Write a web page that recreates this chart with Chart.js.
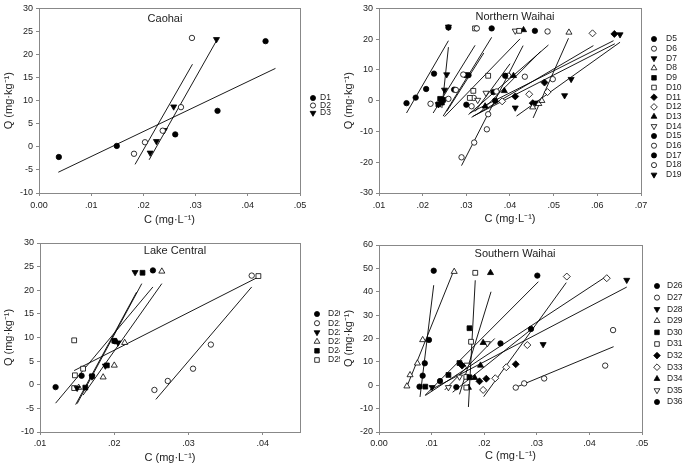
<!DOCTYPE html>
<html>
<head>
<meta charset="utf-8">
<script src="https://cdn.jsdelivr.net/npm/chart.js@4.4.0/dist/chart.umd.min.js"></script>
<style>
  html, body { margin: 0; padding: 0; background: #fff; }
  #wrap { position: relative; width: 685px; height: 468px; overflow: hidden; }
  canvas { position: absolute; }
</style>
</head>
<body>
<div id="wrap">
  <canvas id="p1" width="340" height="234" style="left:0;top:0"></canvas>
  <canvas id="p2" width="345" height="234" style="left:340px;top:0"></canvas>
  <canvas id="p3" width="340" height="234" style="left:0;top:234px"></canvas>
  <canvas id="p4" width="345" height="234" style="left:340px;top:234px"></canvas>
</div>
<script>
// ---- Caohai ----
const caohaiSeries = ["D1", "D2", "D3"];
const caohaiC = [
  [0.0038, 0.0149, 0.0261, 0.0342, 0.0434],
  [0.0182, 0.0203, 0.0237, 0.0272, 0.0293],
  [0.0213, 0.0225, 0.0240, 0.0258, 0.0340]
];
const caohaiQ = [
  [-2.2, 0.2, 2.7, 7.8, 22.9],
  [-1.5, 1.0, 3.5, 8.6, 23.6],
  [-1.3, 1.2, 3.6, 8.7, 23.3]
];
// fitted lines: [c1, q1, c2, q2]
const caohaiFit = [
  [0.0037, -5.5, 0.0453, 17.0],
  [0.0184, -3.8, 0.0294, 17.9],
  [0.0211, -2.8, 0.0341, 23.2]
];
const caohaiXTicks = [0, 0.01, 0.02, 0.03, 0.04, 0.05];
const caohaiYTicks = [-10, -5, 0, 5, 10, 15, 20, 25, 30];

// ---- Northern Waihai ----
const northSeries = ["D5", "D6", "D7", "D8", "D9", "D10", "D11", "D12", "D13", "D14", "D15", "D16", "D17", "D18", "D19"];
const northC = [
  [0.0163, 0.0184, 0.0208, 0.0226, 0.0259],
  [0.0218, 0.0259, 0.0276, 0.0293, 0.0324],
  [0.0236, 0.0245, 0.0250, 0.0255, 0.0259],
  [0.0452, 0.0466, 0.0473, 0.0535],
  [0.0236, 0.0240, 0.0244, 0.0247],
  [0.0308, 0.0316, 0.0350, 0.0320, 0.0421],
  [0.0412, 0.0452, 0.0479, 0.0639],
  [0.0382, 0.0444, 0.0486, 0.0589],
  [0.0343, 0.0387, 0.0408, 0.0431],
  [0.0326, 0.0345, 0.0412],
  [0.0300, 0.0272, 0.0299, 0.0305, 0.0358],
  [0.0312, 0.0317, 0.0369, 0.0434, 0.0498, 0.0486],
  [0.0366, 0.0362, 0.0389, 0.0457],
  [0.0289, 0.0318, 0.0347, 0.0350, 0.0396],
  [0.0412, 0.0458, 0.0525, 0.0540, 0.0652]
];
const northQ = [
  [-0.8, 1.0, 3.8, 8.8, 23.8],
  [-1.0, 0.6, 3.5, 8.5, 23.5],
  [-1.2, -0.3, 3.5, 8.5, 24.0],
  [-2.1, -1.0, 0.0, 22.2],
  [-1.2, 0.6, -0.6, 0.3],
  [0.9, 3.2, 8.1, 23.5, 22.7],
  [1.4, -0.8, 5.9, 21.7],
  [-0.2, 2.1, 2.8, 21.9],
  [-1.8, 3.2, 8.1, 23.0],
  [0.2, 2.5, 22.7],
  [-1.3, 3.6, 8.3, 8.3, 23.5],
  [-1.8, 0.9, 3.0, 7.8, 7.0, 22.5],
  [0.0, 2.8, 8.1, 22.7],
  [-18.4, -13.6, -9.3, -4.4, 8.1],
  [-2.3, -0.7, 1.7, 7.0, 21.5]
];
const northFit = [
  [0.0163, -4.0, 0.0259, 19.5],
  [0.0224, -4.0, 0.0320, 18.0],
  [0.0244, -2.4, 0.0259, 17.4],
  [0.0453, -5.6, 0.0534, 20.3],
  [0.0247, -5.0, 0.0358, 20.6],
  [0.0250, -5.2, 0.0423, 20.1],
  [0.0308, -4.0, 0.0637, 19.5],
  [0.0312, -5.4, 0.0591, 17.9],
  [0.0305, -4.5, 0.0488, 18.1],
  [0.0320, -3.5, 0.0400, 12.0],
  [0.0255, -3.5, 0.0340, 15.5],
  [0.0316, -5.0, 0.0640, 18.5],
  [0.0330, -4.0, 0.0470, 16.0],
  [0.0289, -21.1, 0.0430, 17.9],
  [0.0415, -5.0, 0.0652, 19.0]
];
const northXTicks = [0.01, 0.02, 0.03, 0.04, 0.05, 0.06, 0.07];
const northYTicks = [-30, -20, -10, 0, 10, 20, 30];

// ---- Lake Central ----
const centralSeries = ["D20", "D21", "D22", "D23", "D24", "D25"];
const centralC = [
  [0.0121, 0.0156, 0.0201, 0.0252],
  [0.0254, 0.0272, 0.0306, 0.0330, 0.0385],
  [0.0150, 0.0170, 0.0188, 0.0205, 0.0228],
  [0.0152, 0.0185, 0.0200, 0.0214, 0.0264],
  [0.0161, 0.0170, 0.0190, 0.0200, 0.0238],
  [0.0146, 0.0147, 0.0158, 0.0146, 0.0394]
];
const centralQ = [
  [-0.5, 1.9, 9.2, 24.2],
  [-1.1, 0.8, 3.4, 8.5, 23.1],
  [-0.7, 1.7, 4.0, 8.9, 23.8],
  [-0.6, 1.6, 4.1, 8.9, 24.0],
  [-0.6, 1.8, 4.1, 9.3, 23.7],
  [-0.7, 2.0, 3.4, 9.4, 23.0]
];
const centralFit = [
  [0.0121, -3.9, 0.0252, 20.7],
  [0.0256, -3.1, 0.0385, 20.7],
  [0.0148, -4.2, 0.0230, 19.6],
  [0.0158, -2.2, 0.0264, 21.4],
  [0.0150, -4.0, 0.0237, 21.4],
  [0.0146, 3.0, 0.0394, 22.8]
];
const centralXTicks = [0.01, 0.02, 0.03, 0.04];
const centralYTicks = [-10, -5, 0, 5, 10, 15, 20, 25, 30];

// ---- Southern Waihai ----
const southSeries = ["D26", "D27", "D28", "D29", "D30", "D31", "D32", "D33", "D34", "D35", "D36"];
const southC = [
  [0.0116, 0.0147, 0.0231, 0.0289, 0.0301],
  [0.0260, 0.0276, 0.0314, 0.0430, 0.0445],
  [0.0101, 0.0312, 0.0471],
  [0.0053, 0.0059, 0.0073, 0.0083, 0.0143],
  [0.0088, 0.0132, 0.0153, 0.0172, 0.0172],
  [0.0166, 0.0166, 0.0175, 0.0183],
  [0.0158, 0.0191, 0.0204, 0.0260],
  [0.0198, 0.0221, 0.0242, 0.0282, 0.0357, 0.0433],
  [0.0170, 0.0182, 0.0193, 0.0198, 0.0212],
  [0.0132, 0.0153, 0.0167, 0.0206],
  [0.0077, 0.0083, 0.0087, 0.0095, 0.0104]
];
const southQ = [
  [1.8, -0.8, 17.9, 24.1, 46.9],
  [-1.0, 0.8, 2.9, 8.4, 23.6],
  [-0.9, 17.5, 45.0],
  [-0.4, 4.4, 9.4, 19.4, 48.6],
  [-0.6, 4.4, 9.5, 3.4, 24.4],
  [-1.0, 3.6, 18.6, 48.1],
  [8.4, 1.7, 2.8, 9.0],
  [-2.0, 3.0, 7.7, 17.2, 46.5, 45.8],
  [-1.0, 3.2, 8.5, 18.2, 48.1],
  [-0.9, 3.6, 8.7, 17.9],
  [-0.6, 4.1, 9.4, 19.4, 49.0]
];
const southFit = [
  [0.0088, -4.2, 0.0303, 44.3],
  [0.0260, -0.9, 0.0446, 16.5],
  [0.0097, -2.1, 0.0471, 42.0],
  [0.0053, -0.6, 0.0142, 49.0],
  [0.0088, -4.4, 0.0431, 46.4],
  [0.0170, -9.3, 0.0183, 44.9],
  [0.0140, -3.0, 0.0290, 24.0],
  [0.0199, -4.9, 0.0356, 43.9],
  [0.0153, -3.9, 0.0213, 40.0],
  [0.0125, -2.0, 0.0220, 20.0],
  [0.0078, -5.0, 0.0104, 42.8]
];
const southXTicks = [0, 0.01, 0.02, 0.03, 0.04, 0.05];
const southYTicks = [-20, -10, 0, 10, 20, 30, 40, 50, 60];

// marker symbol per series (style only)
const caohaiMarks = ["fc", "oc", "fv"];
const northMarks = ["fc", "oc", "fv", "ot", "fs", "os", "fd", "od", "ft", "ov", "fc", "oc", "fc", "oc", "fv"];
const centralMarks = ["fc", "oc", "fv", "ot", "fs", "os"];
const southMarks = ["fc", "oc", "fv", "ot", "fs", "os", "fd", "od", "ft", "ov", "fc"];

const MARK = {
  fc: { style: "circle", rot: 0, r: 2.7, fill: true },
  oc: { style: "circle", rot: 0, r: 2.7, fill: false },
  fv: { style: "triangle", rot: 180, r: 3.5, fill: true },
  ov: { style: "triangle", rot: 180, r: 3.5, fill: false },
  ft: { style: "triangle", rot: 0, r: 3.5, fill: true },
  ot: { style: "triangle", rot: 0, r: 3.5, fill: false },
  fs: { style: "rect", rot: 0, r: 3.4, fill: true },
  os: { style: "rect", rot: 0, r: 3.4, fill: false },
  fd: { style: "rectRot", rot: 0, r: 3.5, fill: true },
  od: { style: "rectRot", rot: 0, r: 3.5, fill: false }
};

const FONT = '"Liberation Sans", Arial, sans-serif';
const TEXT = "#222";
const AXIS = "#888";

const framePlugin = {
  id: "frame",
  beforeDatasetsDraw(chart) {
    const a = chart.chartArea, ctx = chart.ctx;
    ctx.save();
    ctx.strokeStyle = AXIS;
    ctx.lineWidth = 1;
    ctx.strokeRect(Math.round(a.left) + 0.5, Math.round(a.top) + 0.5,
      Math.round(a.right - a.left), Math.round(a.bottom - a.top));
    ctx.restore();
  }
};

const panelTitle = {
  id: "panelTitle",
  afterDraw(chart, args, opts) {
    const ctx = chart.ctx;
    ctx.save();
    ctx.font = "11px " + FONT;
    ctx.fillStyle = TEXT;
    ctx.textAlign = "center";
    ctx.textBaseline = "middle";
    ctx.fillText(opts.text, opts.cx, chart.chartArea.top + opts.dy);
    ctx.restore();
  }
};

const sideLegend = {
  id: "sideLegend",
  afterDraw(chart, args, opts) {
    const ctx = chart.ctx;
    ctx.save();
    ctx.font = "8.5px " + FONT;
    ctx.textBaseline = "middle";
    let y = opts.top;
    chart.data.datasets.forEach(ds => {
      if (!ds.mark) return;
      const m = ds.mark;
      ctx.fillStyle = m.fill ? "#000" : "#fff";
      ctx.strokeStyle = "#000";
      ctx.lineWidth = 0.8;
      Chart.helpers.drawPoint(ctx, { pointStyle: m.style, rotation: m.rot, radius: m.r * 0.95, borderWidth: 0.8 }, opts.markX, y);
      ctx.fillStyle = TEXT;
      ctx.fillText(ds.label, opts.textX, y);
      y += opts.step;
    });
    ctx.restore();
  }
};

function fmtC(v) {
  if (Math.abs(v) < 1e-9) return "0.00";
  return v.toFixed(2).replace(/^0/, "");
}

function makePanel(id, p) {
  const canvas = document.getElementById(id);
  const W = canvas.width, H = canvas.height;
  const datasets = [];
  p.series.forEach((name, i) => {
    const m = MARK[p.marks[i]];
    datasets.push({
      label: name,
      mark: m,
      data: p.c[i].map((c, j) => ({ x: c, y: p.q[i][j] })),
      showLine: false,
      pointStyle: m.style,
      rotation: m.rot,
      pointRadius: m.r,
      pointBackgroundColor: m.fill ? "#000" : "#fff",
      pointBorderColor: "#000",
      pointBorderWidth: 0.8,
      order: 1
    });
  });
  p.fit.forEach(f => {
    datasets.push({
      label: "",
      data: [{ x: f[0], y: f[1] }, { x: f[2], y: f[3] }],
      showLine: true,
      pointRadius: 0,
      borderColor: "#000",
      borderWidth: 0.9,
      fill: false,
      order: 2
    });
  });

  new Chart(canvas, {
    type: "scatter",
    data: { datasets },
    plugins: [framePlugin, panelTitle, sideLegend],
    options: {
      responsive: false,
      animation: false,
      events: [],
      layout: { padding: { left: 0, top: p.box.top, right: W - p.box.right, bottom: 0 } },
      scales: {
        x: {
          type: "linear",
          min: p.xMin,
          max: p.xMax,
          afterBuildTicks: s => { s.ticks = p.xTicks.map(v => ({ value: v })); },
          afterFit: s => { s.height = H - p.box.bottom; },
          border: { display: false },
          grid: { display: true, drawOnChartArea: false, drawTicks: true, tickLength: 3, color: AXIS },
          ticks: { font: { family: FONT, size: 9 }, color: TEXT, padding: p.xTickPad, maxRotation: 0, autoSkip: false, callback: v => fmtC(v) },
          title: { display: true, text: "C (mg·L⁻¹)", font: { family: FONT, size: 11 }, color: TEXT, padding: { top: 4, bottom: p.xTitlePad } }
        },
        y: {
          type: "linear",
          min: p.yMin,
          max: p.yMax,
          afterBuildTicks: s => { s.ticks = p.yTicks.map(v => ({ value: v })); },
          afterFit: s => { s.width = p.box.left; },
          border: { display: false },
          grid: { display: true, drawOnChartArea: false, drawTicks: true, tickLength: 3, color: AXIS },
          ticks: { font: { family: FONT, size: 9 }, color: TEXT, padding: 3, autoSkip: false },
          title: { display: true, text: "Q (mg·kg⁻¹)", font: { family: FONT, size: 11 }, color: TEXT, padding: { top: 2, bottom: 4 } }
        }
      },
      plugins: {
        legend: { display: false },
        tooltip: { enabled: false },
        panelTitle: p.title,
        sideLegend: p.legend
      }
    }
  });
}

makePanel("p1", {
  series: caohaiSeries, marks: caohaiMarks, c: caohaiC, q: caohaiQ, fit: caohaiFit,
  xMin: 0, xMax: 0.05, yMin: -10, yMax: 30, xTicks: caohaiXTicks, yTicks: caohaiYTicks,
  box: { left: 39, top: 6, right: 300, bottom: 193 }, xTitlePad: 7, xTickPad: 4,
  title: { text: "Caohai", cx: 165, dy: 11 },
  legend: { markX: 313, textX: 320, top: 98, step: 7.5 }
});
makePanel("p2", {
  series: northSeries, marks: northMarks, c: northC, q: northQ, fit: northFit,
  xMin: 0.01, xMax: 0.07, yMin: -30, yMax: 30, xTicks: northXTicks, yTicks: northYTicks,
  box: { left: 39, top: 6, right: 301, bottom: 193 }, xTitlePad: 8, xTickPad: 4,
  title: { text: "Northern Waihai", cx: 175, dy: 9 },
  legend: { markX: 314, textX: 326, top: 39, step: 9.7 }
});
makePanel("p3", {
  series: centralSeries, marks: centralMarks, c: centralC, q: centralQ, fit: centralFit,
  xMin: 0.01, xMax: 0.045, yMin: -10, yMax: 30, xTicks: centralXTicks, yTicks: centralYTicks,
  box: { left: 40, top: 9, right: 300, bottom: 198 }, xTitlePad: 3, xTickPad: 3,
  title: { text: "Lake Central", cx: 175, dy: 8 },
  legend: { markX: 317, textX: 328, top: 80, step: 9.2 }
});
makePanel("p4", {
  series: southSeries, marks: southMarks, c: southC, q: southQ, fit: southFit,
  xMin: 0, xMax: 0.05, yMin: -20, yMax: 60, xTicks: southXTicks, yTicks: southYTicks,
  box: { left: 39, top: 11, right: 302, bottom: 198 }, xTitlePad: 5, xTickPad: 3,
  title: { text: "Southern Waihai", cx: 175, dy: 9 },
  legend: { markX: 317, textX: 327, top: 52, step: 11.6 }
});
</script>
</body>
</html>
